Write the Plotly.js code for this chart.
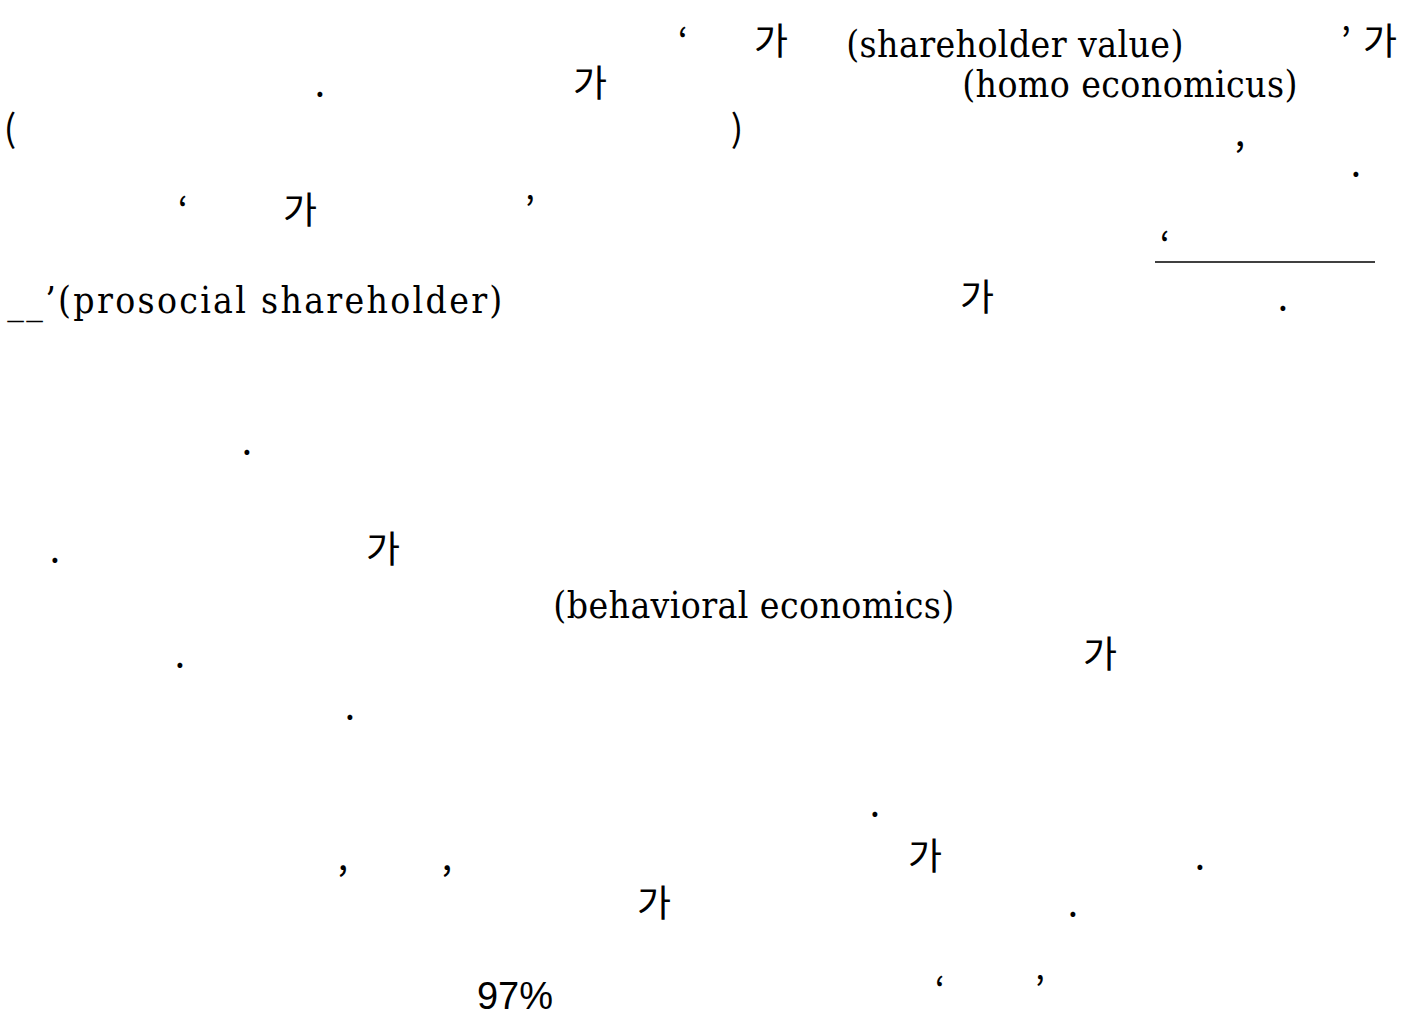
<!DOCTYPE html>
<html>
<head>
<meta charset="utf-8">
<script src="https://cdn.plot.ly/plotly-3.0.1.min.js"></script>
<style>
html,body{margin:0;padding:0;background:#fff;}
#chart{width:1408px;height:1017px;}
#chart .scatterlayer > g.trace:nth-of-type(1) text{letter-spacing:0.4px;}
#chart .scatterlayer > g.trace:nth-of-type(2) text{letter-spacing:2.3px;}
</style>
</head>
<body>
<div id="chart"></div>
<script>
// Serif (Latin) fragments
const serifTexts = ["(shareholder value)", "(homo economicus)", "(behavioral economics)"];
const serifX = [1015, 1130, 754];
const serifY = [48, 88, 609];

// Wider-spaced serif fragment
const spacedTexts = ["__’(prosocial shareholder)"];
const spacedX = [256];
const spacedY = [304];

// Korean-font fragments (glyph 가 and punctuation)
const cjkTexts = ["‘", "가", "’", "가",
  ".", "가",
  "(", ")", ",",
  ".",
  "‘", "가", "’",
  "‘",
  "가", ".",
  ".",
  ".", "가",
  ".", "가",
  ".",
  ".",
  ",", ",", "가", ".",
  "가", ".",
  "‘", "’"];
const cjkX = [683, 771, 1346, 1380,
  320, 590,
  10, 737, 1240,
  1356,
  183, 300, 530,
  1165,
  977, 1283,
  247,
  55, 383,
  180, 1100,
  350,
  875,
  343, 447, 925, 1200,
  654, 1073,
  940, 1040];
const cjkY = [46, 46, 46, 46,
  88, 88,
  133, 133, 137,
  168,
  215, 215, 215,
  250,
  302, 302,
  446,
  554, 554,
  659, 659,
  711,
  808,
  861, 861, 861, 861,
  908, 908,
  995, 995];

// Sans figure
const sansTexts = ["97%"];
const sansX = [515];
const sansY = [999];

// Underline blank
const blankX = [1155, 1375];
const blankY = [262, 262];

const traces = [
  {type: "scatter", mode: "text", x: serifX, y: serifY, text: serifTexts,
   textposition: "middle center", textfont: {family: "DejaVu Serif Condensed, DejaVu Serif", size: 37, color: "#000"}, hoverinfo: "skip"},
  {type: "scatter", mode: "text", x: spacedX, y: spacedY, text: spacedTexts,
   textposition: "middle center", textfont: {family: "DejaVu Serif Condensed, DejaVu Serif", size: 37, color: "#000"}, hoverinfo: "skip"},
  {type: "scatter", mode: "text", x: cjkX, y: cjkY, text: cjkTexts,
   textposition: "middle center", textfont: {family: "Noto Sans CJK KR", size: 37, color: "#000"}, hoverinfo: "skip"},
  {type: "scatter", mode: "text", x: sansX, y: sansY, text: sansTexts,
   textposition: "middle center", textfont: {family: "Liberation Sans, Arial", size: 38, color: "#000"}, hoverinfo: "skip"},
  {type: "scatter", mode: "lines", x: blankX, y: blankY, line: {color: "#000", width: 1.5}, hoverinfo: "skip"}
];

const layout = {
  width: 1408, height: 1017,
  margin: {l: 0, r: 0, t: 0, b: 0},
  paper_bgcolor: "#fff", plot_bgcolor: "#fff",
  showlegend: false,
  xaxis: {range: [0, 1408], visible: false, fixedrange: true},
  yaxis: {range: [1017, 0], visible: false, fixedrange: true},
  hovermode: false
};

Plotly.newPlot("chart", traces, layout, {displayModeBar: false, staticPlot: true});
</script>
</body>
</html>
